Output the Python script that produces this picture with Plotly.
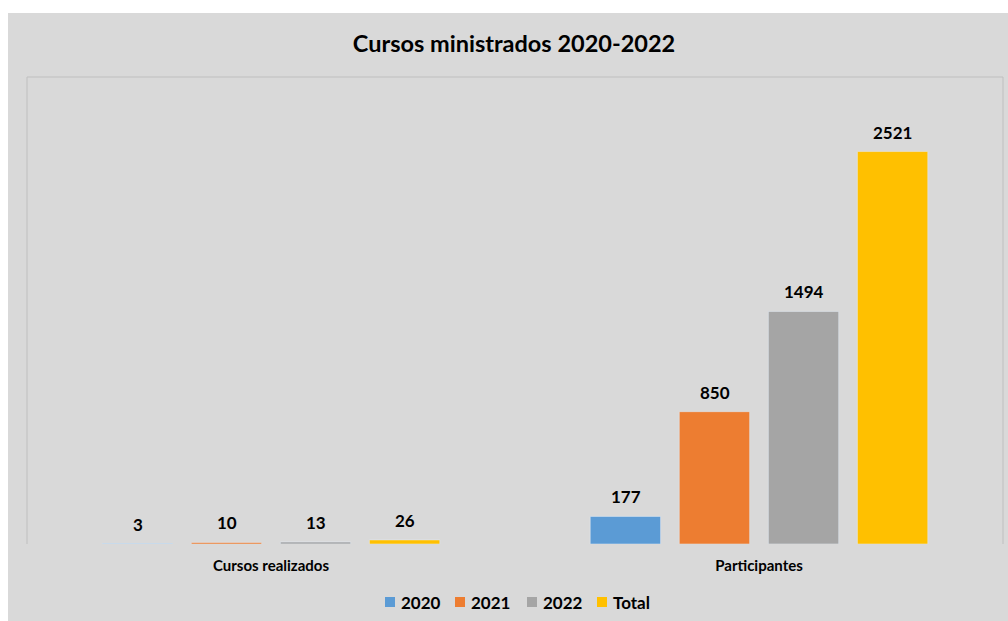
import plotly.graph_objects as go

categories = ["Cursos realizados", "Participantes"]
series_names = ["2020", "2021", "2022", "Total"]
values_2020 = [3, 177]
values_2021 = [10, 850]
values_2022 = [13, 1494]
values_total = [26, 2521]
colors = ["#5B9BD5", "#ED7D31", "#A5A5A5", "#FFC000"]

W, H = 1008, 621
L, R, T, B = 27, 5, 77, 77
pw, ph = W - L - R, H - T - B

def px_x(px):
    return (px - L) / pw

def px_y(py):
    return (H - B - py) / ph

FONT = "Lato, 'Open Sans', sans-serif"
BAR_STEP_PX = 89  # distance between neighbouring bars in a group

fig = go.Figure()
annotations = []
all_series = [values_2020, values_2021, values_2022, values_total]
n = len(series_names)
for i, (name, vals, col) in enumerate(zip(series_names, all_series, colors)):
    fig.add_trace(go.Bar(
        x=categories, y=vals, name=name, marker_color=col, showlegend=False,
    ))
    for cat, v in zip(categories, vals):
        annotations.append(dict(
            x=cat, y=v, xref="x", yref="y", text=f"<b>{v}</b>", showarrow=False,
            xshift=(i - (n - 1) / 2) * BAR_STEP_PX, yshift=7, yanchor="bottom",
            font=dict(family=FONT, size=17, color="#000000"),
        ))

# custom legend (square + label)
legend_text_left_px = [400, 470, 542, 612]
legend_y_px = 602
shapes = [
    dict(type="rect", xref="paper", yref="paper", x0=px_x(0), x1=px_x(W), y0=px_y(13), y1=px_y(0),
         fillcolor="white", line_width=0, layer="below"),
    dict(type="rect", xref="paper", yref="paper", x0=px_x(0), x1=px_x(8), y0=px_y(H), y1=px_y(0),
         fillcolor="white", line_width=0, layer="below"),
    dict(type="line", xref="paper", yref="paper", x0=0, x1=1, y0=1, y1=1, line=dict(color="#bfbfbf", width=1)),
    dict(type="line", xref="paper", yref="paper", x0=0, x1=0, y0=0, y1=1, line=dict(color="#bfbfbf", width=1)),
    dict(type="line", xref="paper", yref="paper", x0=1, x1=1, y0=0, y1=1, line=dict(color="#bfbfbf", width=1)),
]
for name, col, tx in zip(series_names, colors, legend_text_left_px):
    shapes.append(dict(type="rect", xref="paper", yref="paper",
                       x0=px_x(tx - 15), x1=px_x(tx - 5),
                       y0=px_y(legend_y_px + 5), y1=px_y(legend_y_px - 5),
                       fillcolor=col, line_width=0))
    annotations.append(dict(
        x=px_x(tx - 1), y=px_y(legend_y_px), xref="paper", yref="paper", text=f"<b>{name}</b>",
        showarrow=False, xanchor="left", yanchor="middle",
        font=dict(family=FONT, size=17, color="#000000"),
    ))

fig.update_layout(
    width=W, height=H,
    margin=dict(l=L, r=R, t=T, b=B, autoexpand=False),
    paper_bgcolor="#d9d9d9", plot_bgcolor="#d9d9d9",
    barmode="group", bargap=0.27, bargroupgap=0.21,
    title=dict(text="<b>Cursos ministrados 2020-2022</b>", x=514 / W, xanchor="center",
               y=1 - 44 / H, yanchor="middle", font=dict(family=FONT, size=23.5, color="#000000")),
    xaxis=dict(showgrid=False, showline=False, ticks="", zeroline=False, automargin=False,
               ticklabelstandoff=11,
               tickfont=dict(family=FONT, size=15, color="#000000", weight="bold")),
    yaxis=dict(range=[0, 3000], visible=False, showgrid=False, automargin=False),
    shapes=shapes,
    annotations=annotations,
    showlegend=False,
)

fig.write_html("out.html")
